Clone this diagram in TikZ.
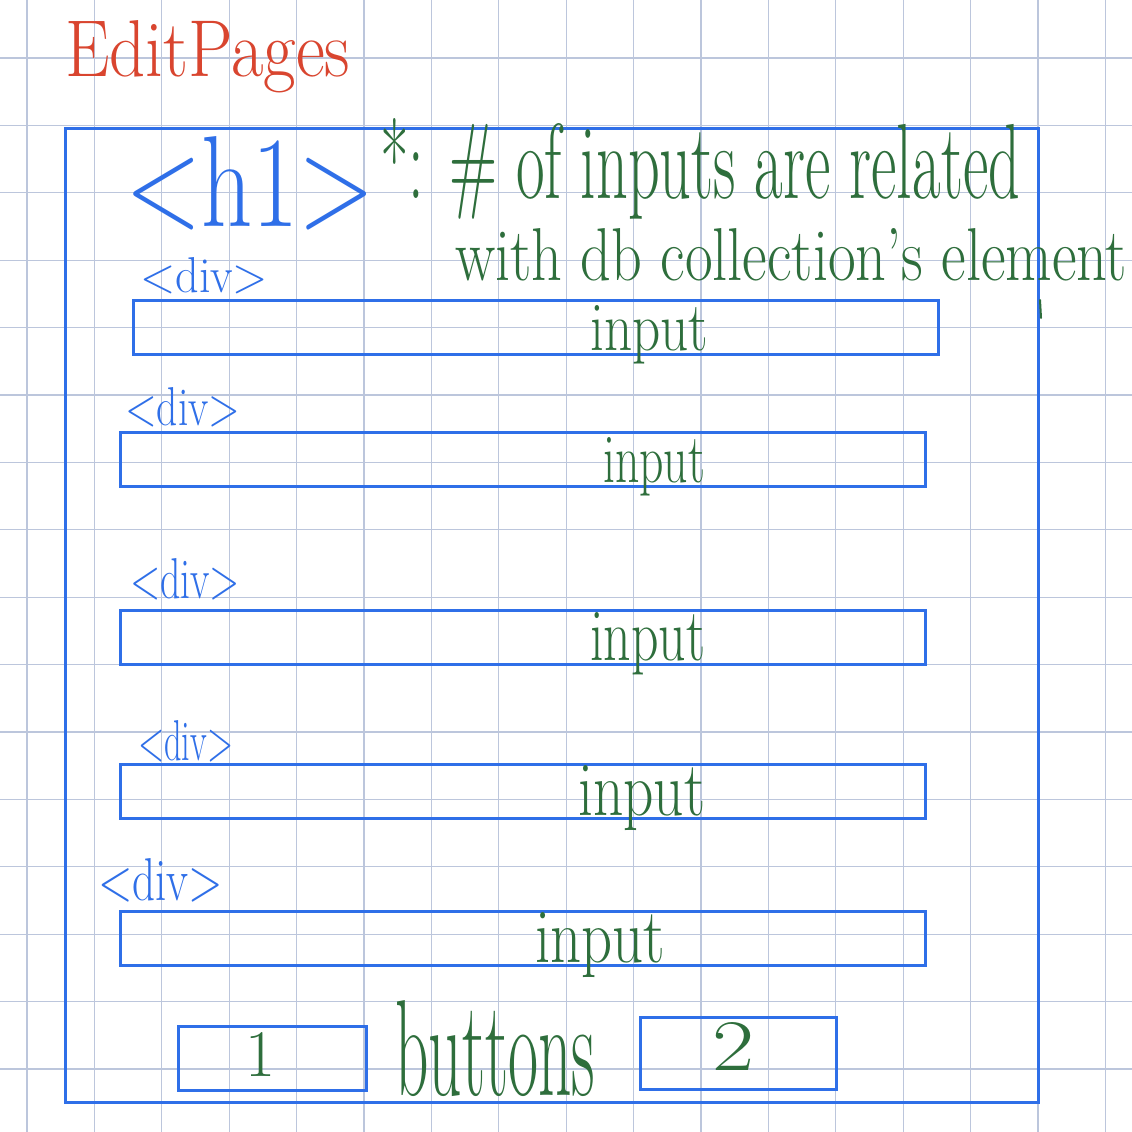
\documentclass[tikz,border=0pt]{standalone}
\usepackage{fontspec}
\usepackage{graphicx}
\definecolor{gridc}{HTML}{BCC6DC}
\definecolor{boxblue}{HTML}{2F6FE8}
\definecolor{inkgreen}{HTML}{2E6E3C}
\definecolor{inkred}{HTML}{D9452F}
\newcommand{\hwtext}[3]{\resizebox{#1pt}{#2pt}{\fontsize{40}{44}\selectfont #3}}
\tikzset{
  gridline/.style={draw=gridc, line width=1.2pt},
  uibox/.style={draw=boxblue, line width=3pt, inner sep=0pt, fill=none},
  greenink/.style={text=inkgreen, inner sep=0pt, anchor=base west},
  blueink/.style={text=boxblue, inner sep=0pt, anchor=base west},
  redink/.style={text=inkred, inner sep=0pt, anchor=base west}
}
\begin{document}
\begin{tikzpicture}[x=1pt,y=-1pt]
\useasboundingbox (0,0) rectangle (1132,1132);
\fill[white] (0,0) rectangle (1132,1132);
% grid
\foreach \i in {0,...,16} \draw[gridline] ({27+67.4*\i},0) -- ({27+67.4*\i},1132);
\foreach \j in {0,...,15} \draw[gridline] (0,{58+67.4*\j}) -- (1132,{58+67.4*\j});
% title
\node[redink] (title) at (65,76) {\hwtext{285}{56}{EditPages}};
% outer page box
\node[uibox, minimum width=973pt, minimum height=974pt] (page) at (551.5,615) {};
% h1
\node[blueink] (h1) at (125,226) {\hwtext{250}{90}{<h1>}};
% note
\node[greenink] (note1) at (380,198) {\hwtext{640}{80}{*: \# of inputs are related}};
\node[greenink] (note2) at (455,280) {\hwtext{672}{52}{with db collection's element}};
\draw[inkgreen, line width=2pt, line cap=round] (1040,300) -- (1041,318);
% input boxes
\node[uibox, minimum width=805pt, minimum height=54pt] (in1) at (535.5,327) {};
\node[uibox, minimum width=805pt, minimum height=54pt] (in2) at (522.5,459) {};
\node[uibox, minimum width=805pt, minimum height=54pt] (in3) at (522.5,637) {};
\node[uibox, minimum width=805pt, minimum height=54pt] (in4) at (522.5,791) {};
\node[uibox, minimum width=805pt, minimum height=54pt] (in5) at (522.5,938) {};
% div labels
\node[blueink] (div1) at (140,292) {\hwtext{128}{35}{<div>}};
\node[blueink] (div2) at (125,425) {\hwtext{115}{38}{<div>}};
\node[blueink] (div3) at (130,598) {\hwtext{110}{40}{<div>}};
\node[blueink] (div4) at (138,760) {\hwtext{95}{40}{<div>}};
\node[blueink] (div5) at (98,900) {\hwtext{125}{42}{<div>}};
% input labels
\node[greenink] (lab1) at (590,350) {\hwtext{118}{45}{input}};
\node[greenink] (lab2) at (603,482) {\hwtext{102}{45}{input}};
\node[greenink] (lab3) at (590,660) {\hwtext{115}{48}{input}};
\node[greenink] (lab4) at (578,815) {\hwtext{127}{50}{input}};
\node[greenink] (lab5) at (535,962) {\hwtext{130}{50}{input}};
% buttons
\node[uibox, minimum width=188pt, minimum height=64pt] (btn1) at (272,1058) {};
\node[uibox, minimum width=196pt, minimum height=72pt] (btn2) at (738,1053) {};
\node[greenink] (one) at (245,1076) {\hwtext{30}{44}{1}};
\node[greenink] (buttons) at (395,1095) {\hwtext{200}{95}{buttons}};
\node[greenink] (two) at (712,1070) {\hwtext{42}{48}{2}};
\end{tikzpicture}
\end{document}
